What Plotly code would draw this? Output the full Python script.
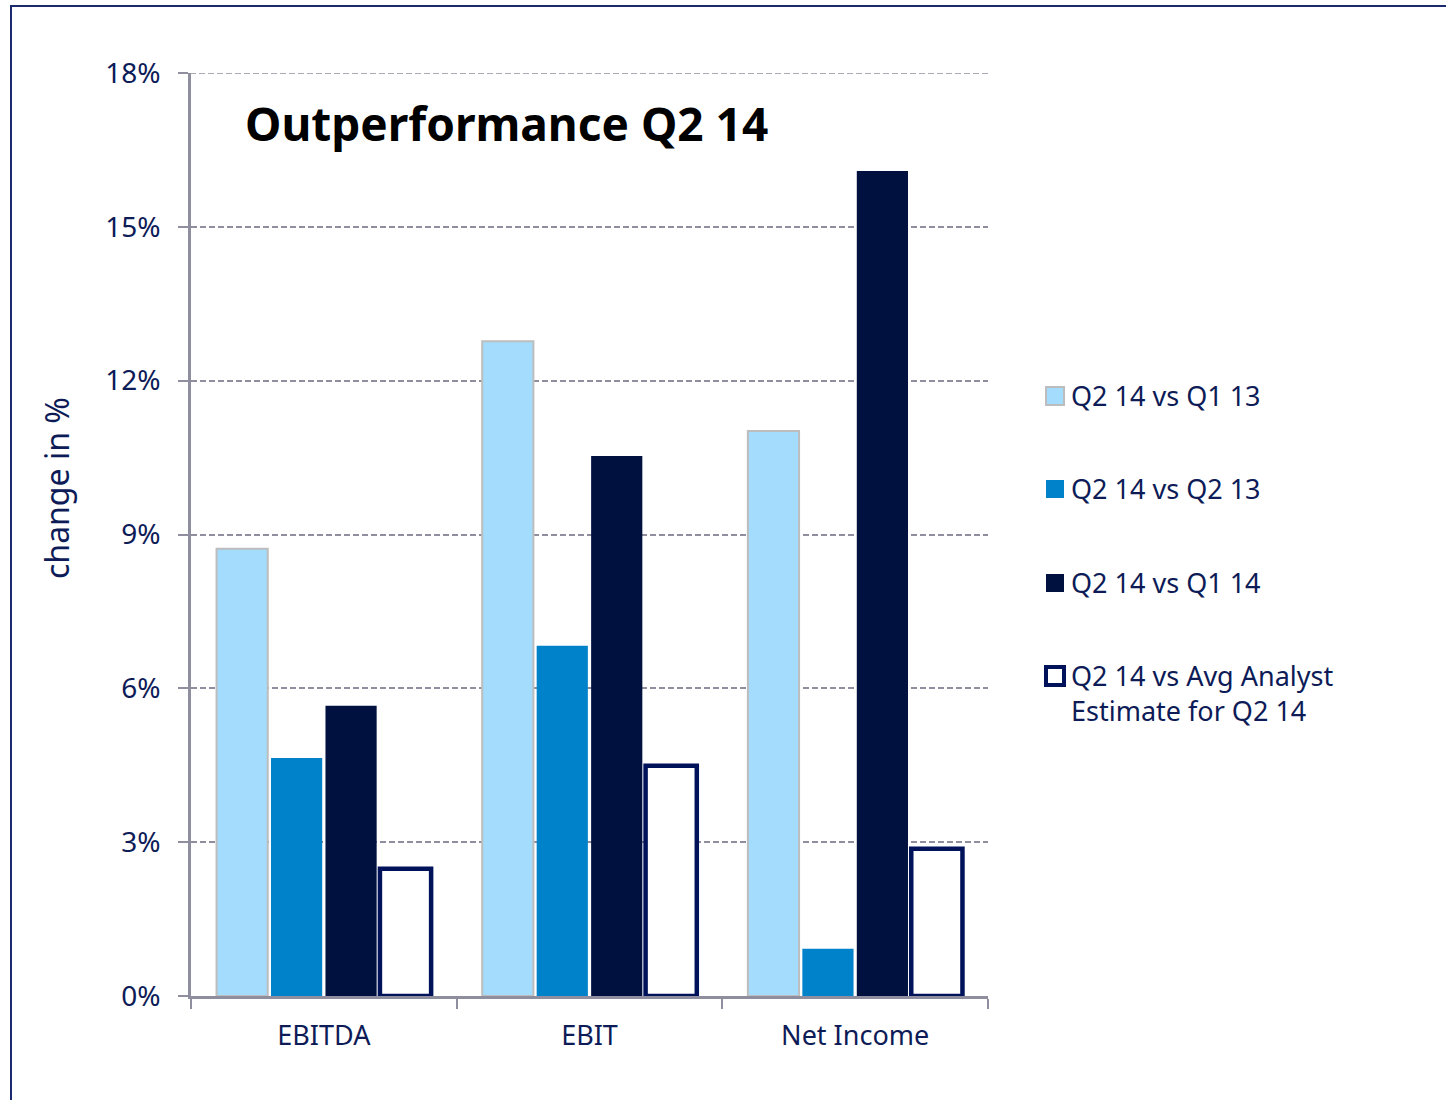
import plotly.graph_objects as go

# Data
categories = ["EBITDA", "EBIT", "Net Income"]
series_names = [
    "Q2 14 vs Q1 13",
    "Q2 14 vs Q2 13",
    "Q2 14 vs Q1 14",
    "Q2 14 vs Avg Analyst<br>Estimate for Q2 14",
]
vs_q1_13 = [8.72, 12.77, 11.02]
vs_q2_13 = [4.64, 6.83, 0.92]
vs_q1_14 = [5.66, 10.53, 16.09]
vs_analyst = [2.48, 4.49, 2.87]
y_ticks = [0, 3, 6, 9, 12, 15, 18]
y_tick_labels = ["0%", "3%", "6%", "9%", "12%", "15%", "18%"]
y_max = 18

# Page geometry
W, H = 1446, 1100
ML, MR, MT, MB = 191, 458, 73, 104
PW, PH = W - ML - MR, H - MT - MB

NAVY_TEXT = "#0d1b57"
LIGHT = "#a3dcfc"
BLUE = "#0082ca"
DARK = "#001140"
OUTLINE = "#00135a"
GRID = "#8e8e9e"
FONT = "Noto Sans"


def px_x(x):
    return (x - ML) / PW


def px_y(y):
    return (H - MB - y) / PH


styles = [
    dict(color=LIGHT, line=dict(color="#bdbdbd", width=2)),
    dict(color=BLUE, line=dict(color=BLUE, width=0)),
    dict(color=DARK, line=dict(color=DARK, width=0)),
    dict(color="white", line=dict(color=OUTLINE, width=4.5)),
]
values = [vs_q1_13, vs_q2_13, vs_q1_14, vs_analyst]

fig = go.Figure()
for name, vals, st in zip(series_names, values, styles):
    fig.add_trace(go.Bar(x=categories, y=vals, name=name, marker=st,
                         showlegend=False, cliponaxis=False))

shapes = []
annotations = []

# outer frame (only left and top edges fall inside the page)
shapes.append(dict(type="rect", xref="paper", yref="paper",
                   x0=px_x(11), x1=px_x(W + 10), y0=px_y(H + 10), y1=px_y(6),
                   line=dict(color="#1a2a6c", width=2), layer="below"))

# top gridline at the upper end of the axis range
shapes.append(dict(type="line", xref="paper", yref="y",
                   x0=px_x(181), x1=1, y0=y_max, y1=y_max,
                   line=dict(color=GRID, width=1.5, dash="6px,3px"), layer="below"))

# legend
legend_rows = [396, 489, 583, 676]
for i, (name, st, yc) in enumerate(zip(series_names, styles, legend_rows)):
    s = 18
    if i == 3:
        shapes.append(dict(type="rect", xref="paper", yref="paper",
                           x0=px_x(1046), x1=px_x(1046 + s),
                           y0=px_y(yc + s / 2), y1=px_y(yc - s / 2),
                           fillcolor="white",
                           line=dict(color=OUTLINE, width=4)))
    else:
        lc = st["line"]["color"] if st["line"]["width"] > 0 else st["color"]
        shapes.append(dict(type="rect", xref="paper", yref="paper",
                           x0=px_x(1046), x1=px_x(1046 + s),
                           y0=px_y(yc + s / 2), y1=px_y(yc - s / 2),
                           fillcolor=st["color"],
                           line=dict(color=lc, width=2 if i == 0 else 0)))
    annotations.append(dict(text=name, xref="paper", yref="paper",
                            x=px_x(1069), y=px_y(yc - 21),
                            xanchor="left", yanchor="top", align="left",
                            showarrow=False,
                            font=dict(family=FONT, size=27, color=NAVY_TEXT)))

# chart title inside the plot area
annotations.append(dict(text="<b>Outperformance Q2 14</b>", xref="paper", yref="paper",
                        x=px_x(243), y=px_y(123), xanchor="left", yanchor="middle",
                        showarrow=False,
                        font=dict(family=FONT, size=46, color="black")))

# y-axis title
annotations.append(dict(text="change in %", xref="paper", yref="paper",
                        x=px_x(57), y=px_y(488), xanchor="center", yanchor="middle",
                        textangle=-90, showarrow=False,
                        font=dict(family=FONT, size=32, color=NAVY_TEXT)))

fig.update_layout(
    width=W, height=H,
    margin=dict(l=ML, r=MR, t=MT, b=MB),
    paper_bgcolor="white", plot_bgcolor="white",
    barmode="group", bargap=0.18, bargroupgap=0.06,
    font=dict(family=FONT, color=NAVY_TEXT),
    shapes=shapes, annotations=annotations,
)
fig.update_xaxes(
    showline=True, linecolor=GRID, linewidth=2.5,
    ticks="outside", tickson="boundaries", ticklen=10, tickwidth=2, tickcolor=GRID,
    tickfont=dict(family=FONT, size=27, color=NAVY_TEXT),
    ticklabelstandoff=14,
    showgrid=False,
)
fig.update_yaxes(
    range=[0, y_max], tickvals=y_ticks, ticktext=y_tick_labels,
    showline=True, linecolor=GRID, linewidth=2.5,
    ticks="outside", ticklen=10, tickwidth=2, tickcolor=GRID,
    tickfont=dict(family=FONT, size=28, color=NAVY_TEXT),
    ticklabelstandoff=12,
    showgrid=True, gridcolor=GRID, gridwidth=1.5, griddash="6px,3px",
    zeroline=False,
)

fig.write_html("out.html")
